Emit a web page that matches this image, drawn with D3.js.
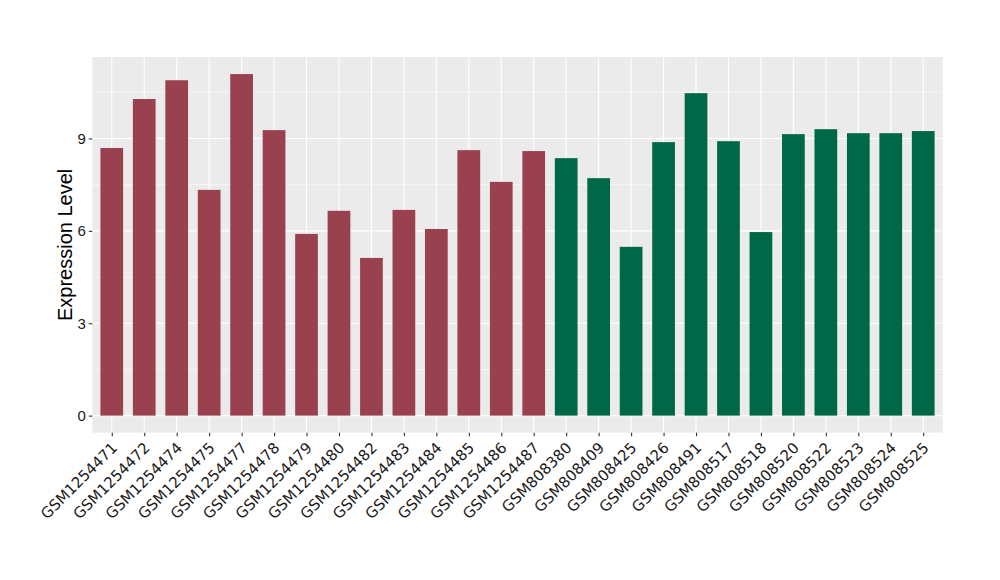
<!DOCTYPE html>
<html><head><meta charset="utf-8">
<script src="https://cdn.jsdelivr.net/npm/d3@7"></script>
<style>body{margin:0;background:#fff;} svg{display:block;font-family:"Liberation Sans",Arial,sans-serif;}</style>
</head><body>
<svg id="chart" width="1000" height="580"></svg>
<script>
const samples = ["GSM1254471","GSM1254472","GSM1254474","GSM1254475","GSM1254477","GSM1254478","GSM1254479","GSM1254480","GSM1254482","GSM1254483","GSM1254484","GSM1254485","GSM1254486","GSM1254487","GSM808380","GSM808409","GSM808425","GSM808426","GSM808491","GSM808517","GSM808518","GSM808520","GSM808522","GSM808523","GSM808524","GSM808525"];
const values = [8.69,10.28,10.89,7.33,11.09,9.27,5.90,6.65,5.12,6.68,6.06,8.62,7.59,8.59,8.36,7.71,5.48,8.88,10.47,8.91,5.96,9.14,9.30,9.17,9.17,9.24];
const groups = ["A","A","A","A","A","A","A","A","A","A","A","A","A","A","B","B","B","B","B","B","B","B","B","B","B","B"];
const groupNames = ["A","B"];
const groupColors = ["#9A4150","#006846"];
const yTicks = [0,3,6,9];
const yMinor = [1.5,4.5,7.5,10.5];
const yTitle = "Expression Level";

const svg = d3.select("#chart");
const L = 92.3, R = 942.7, T = 57, B = 432.7;
const data = samples.map((s,i)=>({s, v:values[i], g:groups[i]}));
const maxV = d3.max(values);
const y = d3.scaleLinear().domain([-0.05*maxV, maxV*1.05]).range([B, T]);
// ggplot: discrete expansion 0.6 units on each side
const step = (R - L) / (samples.length - 1 + 1.2);
const x = d3.scalePoint().domain(samples).range([L + 0.6*step, R - 0.6*step]);
const color = d3.scaleOrdinal().domain(groupNames).range(groupColors);

svg.append("rect").attr("x",L).attr("y",T).attr("width",R-L).attr("height",B-T).attr("fill","#EBEBEB");
const grid = svg.append("g");
grid.selectAll(".minor").data(yMinor).join("line")
  .attr("x1",L).attr("x2",R).attr("y1",d=>y(d)).attr("y2",d=>y(d))
  .attr("stroke","#fff").attr("stroke-width",0.55);
grid.selectAll(".majy").data(yTicks).join("line")
  .attr("x1",L).attr("x2",R).attr("y1",d=>y(d)).attr("y2",d=>y(d))
  .attr("stroke","#fff").attr("stroke-width",1.1);
grid.selectAll(".majx").data(samples).join("line")
  .attr("x1",d=>x(d)).attr("x2",d=>x(d)).attr("y1",T).attr("y2",B)
  .attr("stroke","#fff").attr("stroke-width",1.1);

const bw = step*0.7;
svg.append("g").selectAll("rect").data(data).join("rect")
  .attr("x",d=>x(d.s)-bw/2).attr("width",bw)
  .attr("y",d=>y(d.v)).attr("height",d=>y(0)-y(d.v))
  .attr("fill",d=>color(d.g));

// y axis
const yAxis = d3.axisLeft(y).tickValues(yTicks).tickSize(3.5).tickPadding(3);
const ga = svg.append("g").attr("transform",`translate(${L},0)`).call(yAxis);
ga.select(".domain").remove();
ga.selectAll(".tick line").attr("stroke","#333").attr("stroke-width",1.1);
ga.selectAll(".tick text").attr("fill","#1a1a1a").attr("font-size",15).attr("font-family","Liberation Sans, Arial, sans-serif");

// x axis
const xAxis = d3.axisBottom(x).tickSize(3.5).tickPadding(3);
const gx = svg.append("g").attr("transform",`translate(0,${B})`).call(xAxis);
gx.select(".domain").remove();
gx.selectAll(".tick line").attr("stroke","#333").attr("stroke-width",1.1);
gx.selectAll(".tick text").attr("fill","#1a1a1a").attr("font-size",15)
  .attr("font-family","DejaVu Sans, sans-serif")
  .attr("text-anchor","end").attr("dy",null).attr("y",null)
  .attr("transform","translate(6,16) rotate(-45)");

svg.append("text").attr("transform",`translate(72,${(T+B)/2}) rotate(-90)`)
  .attr("text-anchor","middle").attr("font-size",20).attr("fill","#000")
  .text(yTitle);
</script>
</body></html>
